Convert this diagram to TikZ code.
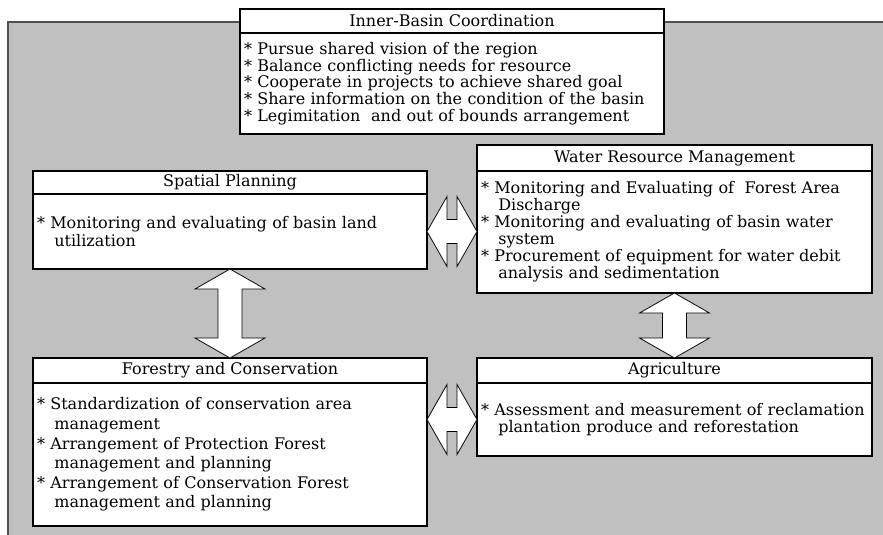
\documentclass[tikz,border=0pt]{standalone}
\usepackage{fontspec}
\setmainfont{DejaVu Serif}
\usetikzlibrary{calc}
\definecolor{bggray}{HTML}{C0C0C0}
\definecolor{bgline}{HTML}{505050}
\newcommand{\blockarr}[2]{%
  \draw[barrow] (#1)
    -- ($(#1)!15pt!(#2)!26.25pt!90:(#2)$)
    -- ($(#1)!15pt!(#2)!9pt!90:(#2)$)
    -- ($(#2)!15pt!(#1)!9pt!-90:(#1)$)
    -- ($(#2)!15pt!(#1)!26.25pt!-90:(#1)$)
    -- (#2)
    -- ($(#2)!15pt!(#1)!26.25pt!90:(#1)$)
    -- ($(#2)!15pt!(#1)!9pt!90:(#1)$)
    -- ($(#1)!15pt!(#2)!9pt!-90:(#2)$)
    -- ($(#1)!15pt!(#2)!26.25pt!-90:(#2)$)
    -- cycle;}
\begin{document}
\begin{tikzpicture}[x=0.75pt,y=-0.75pt,
  font=\fontsize{12}{12.75}\selectfont,
  hdr/.style={draw=black, fill=white, line width=0.8pt, anchor=north west,
    inner sep=0pt, outer sep=0pt, align=center},
  bodybox/.style={draw=black, fill=white, line width=0.8pt, anchor=north west,
    inner xsep=3pt, inner ysep=0pt, outer sep=0pt, align=left},
  barrow/.style={draw=black, fill=white, line width=0.6pt, line join=miter}]
\useasboundingbox (0,0) rectangle (883,535);
% background panel
\fill[bggray] (8,22) rectangle (883,535);
\draw[bgline, line width=1.2pt] (8,535) -- (8,22) -- (883,22);
% Inner-Basin Coordination
\node[hdr, minimum width=318pt, minimum height=18pt] (ibh) at (240,9) {Inner-Basin Coordination};
\node[bodybox, minimum width=318pt, minimum height=75.75pt, text width=312pt,
  font=\fontsize{12}{12.5}\selectfont] (ibb) at (ibh.south west)
  {{*} Pursue shared vision of the region\\
   {*} Balance conflicting needs for resource\\
   {*} Cooperate in projects to achieve shared goal\\
   {*} Share information on the condition of the basin\\
   {*} Legimitation\ \ and out of bounds arrangement};
% Spatial Planning
\node[hdr, minimum width=295.5pt, minimum height=17.25pt] (sph) at (33,171) {Spatial Planning};
\node[bodybox, minimum width=295.5pt, minimum height=56.25pt, text width=289.5pt,
  font=\fontsize{12}{13.5}\selectfont] (spb) at (sph.south west)
  {{*} Monitoring and evaluating of basin land\\
   \hspace*{13pt}utilization};
% Water Resource Management
\node[hdr, minimum width=296.25pt, minimum height=19.5pt] (wh) at (477,145) {Water Resource Management};
\node[bodybox, minimum width=296.25pt, minimum height=91.5pt, text width=290.25pt,
  font=\fontsize{12}{12.75}\selectfont] (wb) at (wh.south west)
  {{*} Monitoring and Evaluating of\ \ Forest Area\\
   \hspace*{13pt}Discharge\\
   {*} Monitoring and evaluating of basin water\\
   \hspace*{13pt}system\\
   {*} Procurement of equipment for water debit\\
   \hspace*{13pt}analysis and sedimentation};
% Forestry and Conservation
\node[hdr, minimum width=295.5pt, minimum height=18.75pt] (fh) at (33,358) {Forestry and Conservation};
\node[bodybox, minimum width=295.5pt, minimum height=107.25pt, text width=289.5pt,
  font=\fontsize{12}{14.7}\selectfont] (fb) at (fh.south west)
  {{*} Standardization of conservation area\\
   \hspace*{13pt}management\\
   {*} Arrangement of Protection Forest\\
   \hspace*{13pt}management and planning\\
   {*} Arrangement of Conservation Forest\\
   \hspace*{13pt}management and planning};
% Agriculture
\node[hdr, minimum width=296.25pt, minimum height=18.75pt] (ah) at (477,358) {Agriculture};
\node[bodybox, minimum width=296.25pt, minimum height=54.75pt, text width=290.25pt,
  font=\fontsize{12}{12.75}\selectfont] (ab) at (ah.south west)
  {{*} Assessment and measurement of reclamation\\
   \hspace*{13pt}plantation produce and reforestation};
% connector end points
\coordinate (ua) at (spb.east -| wb.west);
\coordinate (la) at (ab.west -| fb.east);
% block arrows
\blockarr{spb.south}{fh.north}
\blockarr{wb.south}{ah.north}
\blockarr{spb.east}{ua}
\blockarr{la}{ab.west}
\end{tikzpicture}
\end{document}
